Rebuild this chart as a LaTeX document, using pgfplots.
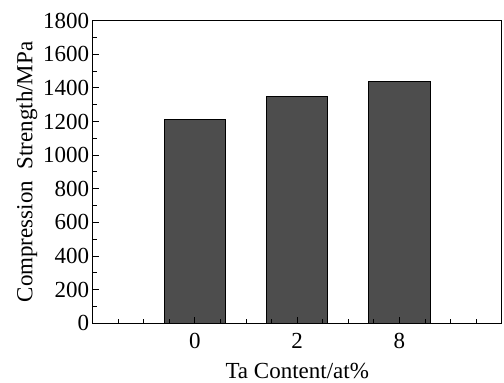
\documentclass[border=0pt]{standalone}
\usepackage{pgfplots}
\pgfplotsset{compat=1.18}
\usepackage{fontspec}
\setmainfont{Liberation Serif}
\definecolor{barfill}{HTML}{4D4D4D}
\begin{document}
\begin{tikzpicture}
\useasboundingbox (-92.7pt,-59.7pt) rectangle (411.3pt,323.3pt);
\begin{axis}[
  at={(0,0)}, anchor=south west,
  scale only axis,
  width=409pt, height=302.6pt,
  xmin=0, xmax=4,
  ymin=0, ymax=1800,
  xtick={1,2,3},
  xticklabels={0,2,8},
  minor xtick={0.25,0.5,0.75,1.25,1.5,1.75,2.25,2.5,2.75,3.25,3.5,3.75},
  ytick={0,200,...,1800},
  minor ytick={100,300,...,1700},
  xtick pos=left, ytick pos=left,
  tick align=inside,
  major tick length=6.7pt,
  minor tick length=4.5pt,
  axis line style={line width=1.2pt},
  every tick/.style={line width=1pt, black},
  every minor tick/.style={line width=1pt, black},
  tick label style={font=\fontsize{23}{27}\selectfont},
  label style={font=\fontsize{23}{27}\selectfont},
  /pgf/number format/assume math mode=true,
  /pgf/number format/1000 sep={},
  yticklabel style={xshift=0pt},
  xticklabel style={yshift=-6pt},
  xlabel={Ta Content/at\%},
  ylabel={Compression\ \ Strength/MPa},
  xlabel style={yshift=-8pt},
  ylabel style={yshift=-1pt},
  axis on top=true,
]
\addplot[ybar, bar width=0.6, fill=barfill, draw=black, line width=1pt] coordinates {
  (1,1213) (2,1348) (3,1441)
};
\end{axis}
\end{tikzpicture}
\end{document}
